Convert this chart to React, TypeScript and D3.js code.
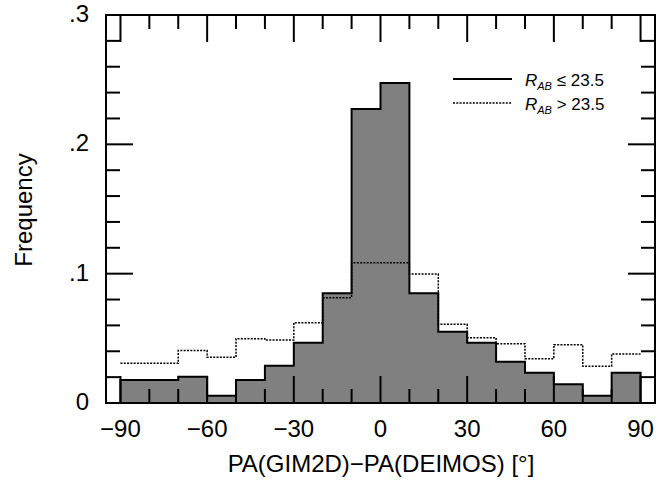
import React from "react";
import * as d3 from "d3";

const binStarts = [-90, -80, -70, -60, -50, -40, -30, -20, -10, 0, 10, 20, 30, 40, 50, 60, 70, 80];
const binWidth = 10;
const brightFreq = [0.0178, 0.0178, 0.0203, 0.0056, 0.0178, 0.0288, 0.0466, 0.0848, 0.2274, 0.2475, 0.0848, 0.0551, 0.0466, 0.0319, 0.0234, 0.0145, 0.0056, 0.0234];
const faintFreq = [0.0307, 0.0307, 0.0405, 0.0353, 0.0497, 0.0487, 0.0621, 0.0814, 0.1085, 0.1085, 0.0998, 0.0608, 0.0505, 0.0459, 0.0343, 0.0451, 0.0284, 0.0379];
const xTickLabels = [-90, -60, -30, 0, 30, 60, 90];
const yTickLabels = [0, 0.1, 0.2, 0.3];

const W = 657;
const H = 482;
const FONT = "'Liberation Sans', Arial, Helvetica, sans-serif";

export default function App() {
  const x = d3.scaleLinear().domain([-95, 95]).range([106, 655]);
  const y = d3.scaleLinear().domain([0, 0.3]).range([403, 15]);

  const steps = (vals: number[]) => {
    const pts = binStarts.map((s, i) => ({ x: s, v: vals[i] }));
    pts.push({ x: binStarts[binStarts.length - 1] + binWidth, v: vals[vals.length - 1] });
    return pts;
  };
  const brightPts = steps(brightFreq);
  const faintPts = steps(faintFreq);

  const area = d3
    .area<{ x: number; v: number }>()
    .curve(d3.curveStepAfter)
    .x((d) => x(d.x))
    .y0(y(0))
    .y1((d) => y(d.v));
  const line = d3
    .line<{ x: number; v: number }>()
    .curve(d3.curveStepAfter)
    .x((d) => x(d.x))
    .y((d) => y(d.v));

  const outlinePts = [{ x: binStarts[0], v: 0 }, ...brightPts];
  const outlinePath =
    line(outlinePts) + `L${x(brightPts[brightPts.length - 1].x)},${y(0)}`;

  const xMinor = d3.range(-90, 91, 10);
  const yMinor = d3.range(0, 16).map((i) => i * 0.02);
  const x0 = x.range()[0];
  const x1 = x.range()[1];
  const y0 = y.range()[0];
  const y1 = y.range()[1];
  const MAJ = 27;
  const MIN = 14;
  const xFmt = d3.format("d");
  const yFmt = (d: number) => (d === 0 ? "0" : d3.format(".1f")(d).replace(/^0/, ""));

  return (
    <svg
      width={W}
      height={H}
      style={{ position: "absolute", left: 0, top: 0, background: "#fff" }}
      fontFamily={FONT}
    >
      <rect x={0} y={0} width={W} height={H} fill="#fff" />
      <path d={area(brightPts) || ""} fill="#808080" stroke="none" />
      <path d={outlinePath} fill="none" stroke="#000" strokeWidth={2} />
      <path
        d={line(faintPts) || ""}
        fill="none"
        stroke="#000"
        strokeWidth={1.5}
        strokeDasharray="2,1.3"
      />
      {xMinor.map((t) => {
        const len = t % 30 === 0 ? MAJ : MIN;
        return (
          <g key={"xt" + t} stroke="#000" strokeWidth={2}>
            <line x1={x(t)} x2={x(t)} y1={y0} y2={y0 - len} />
            <line x1={x(t)} x2={x(t)} y1={y1} y2={y1 + len} />
          </g>
        );
      })}
      {yMinor.map((t, i) => {
        const len = i % 5 === 0 ? MAJ : MIN;
        return (
          <g key={"yt" + i} stroke="#000" strokeWidth={2}>
            <line x1={x0} x2={x0 + len} y1={y(t)} y2={y(t)} />
            <line x1={x1} x2={x1 - len} y1={y(t)} y2={y(t)} />
          </g>
        );
      })}
      <rect
        x={x0}
        y={y1}
        width={x1 - x0}
        height={y0 - y1}
        fill="none"
        stroke="#000"
        strokeWidth={2}
      />
      {xTickLabels.map((t) => (
        <text key={"xl" + t} x={x(t)} y={437} textAnchor="middle" fontSize={24} fill="#000">
          {xFmt(t)}
        </text>
      ))}
      {yTickLabels.map((t) => (
        <text key={"yl" + t} x={89} y={y(t) + 7} textAnchor="end" fontSize={24} fill="#000">
          {yFmt(t)}
        </text>
      ))}
      <text x={381} y={472} textAnchor="middle" fontSize={24} fill="#000">
        PA(GIM2D)−PA(DEIMOS) [°]
      </text>
      <text
        transform={`translate(32,210) rotate(-90)`}
        textAnchor="middle"
        fontSize={24}
        fill="#000"
      >
        Frequency
      </text>
      <line x1={453} x2={512} y1={79} y2={79} stroke="#000" strokeWidth={2} />
      <line x1={453} x2={512} y1={103} y2={103} stroke="#000" strokeWidth={1.5} strokeDasharray="2,1.3" />
      <text x={525} y={86} fontSize={17} fill="#000">
        <tspan fontStyle="italic">R</tspan>
        <tspan fontSize={11} fontStyle="italic" dy={4}>AB</tspan>
        <tspan dy={-4}> ≤ 23.5</tspan>
      </text>
      <text x={525} y={110} fontSize={17} fill="#000">
        <tspan fontStyle="italic">R</tspan>
        <tspan fontSize={11} fontStyle="italic" dy={4}>AB</tspan>
        <tspan dy={-4}> &gt; 23.5</tspan>
      </text>
    </svg>
  );
}
